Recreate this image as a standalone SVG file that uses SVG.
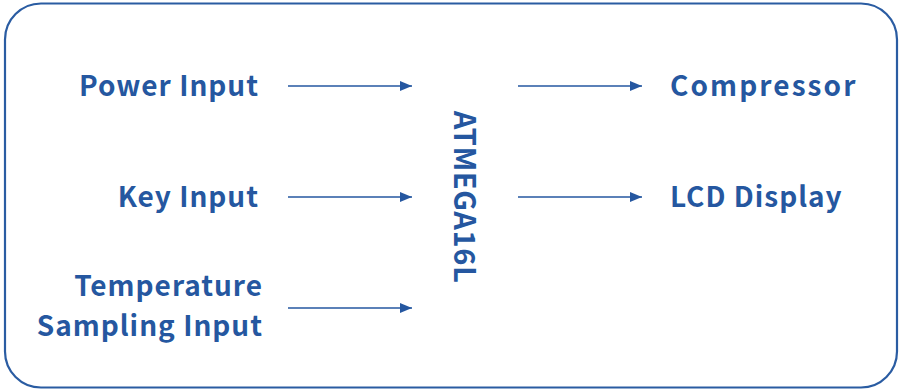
<svg xmlns="http://www.w3.org/2000/svg" width="902" height="390" viewBox="0 0 902 390">
<defs>
<marker id="ah" viewBox="0 0 12 10" refX="12" refY="5" markerWidth="12" markerHeight="10" markerUnits="userSpaceOnUse" orient="auto">
<path d="M0,0 L12,5 L0,10 Z" fill="#2557a0"/>
</marker>
<style>
.t{font-family:"Noto Sans CJK SC","Noto Sans",sans-serif;font-weight:700;font-size:28px;fill:#2557a0;letter-spacing:1px}
.c{stroke:#2557a0;stroke-width:1.6;fill:none;marker-end:url(#ah)}
</style>
</defs>
<rect x="5" y="3.5" width="892" height="384" rx="36" fill="#fff" stroke="#2a5ca2" stroke-width="2.2"/>
<g id="power"><text class="t" x="259" y="96" text-anchor="end">Power Input</text></g>
<g id="key"><text class="t" x="259" y="207" text-anchor="end">Key Input</text></g>
<g id="temp"><text class="t" x="263" y="296" text-anchor="end">Temperature</text><text class="t" x="263" y="336" text-anchor="end">Sampling Input</text></g>
<g id="mcu"><text class="t" transform="translate(454,197) rotate(90)" text-anchor="middle" style="letter-spacing:0.6px;font-size:29px">ATMEGA16L</text></g>
<g id="comp"><text class="t" x="670" y="96" style="letter-spacing:2.1px">Compressor</text></g>
<g id="lcd"><text class="t" x="670" y="207">LCD Display</text></g>
<g id="connectors">
<line class="c" x1="288" y1="86" x2="412" y2="86"/>
<line class="c" x1="288" y1="197" x2="412" y2="197"/>
<line class="c" x1="288" y1="308" x2="412" y2="308"/>
<line class="c" x1="518" y1="86" x2="642" y2="86"/>
<line class="c" x1="518" y1="197" x2="642" y2="197"/>
</g>
</svg>
